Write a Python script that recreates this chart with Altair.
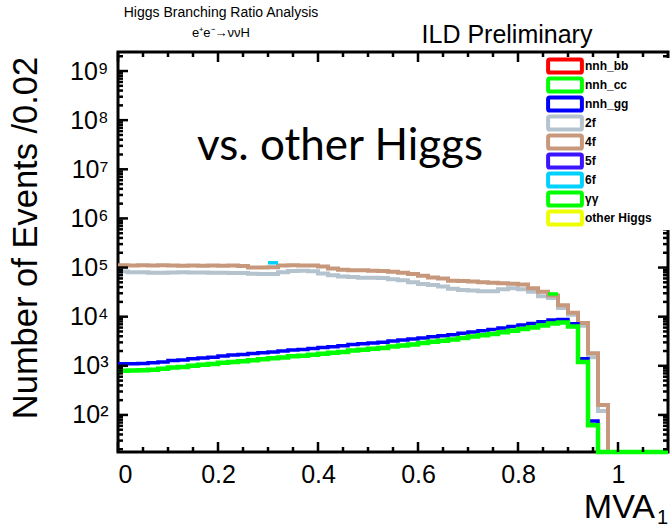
import altair as alt
import pandas as pd

# ---------------- data ----------------
series_names = ["nnh_bb", "nnh_cc", "nnh_gg", "2f", "4f", "5f", "6f", "γγ", "other Higgs"]
series_colors = ["#ff0000", "#00ff00", "#0000ff", "#b4c3cd", "#c8987c",
                 "#3c14ff", "#00d2ff", "#00ff00", "#eeff00"]

bin_edges = [0.00, 0.02, 0.04, 0.06, 0.08, 0.10, 0.12, 0.14, 0.16, 0.18,
             0.20, 0.22, 0.24, 0.26, 0.28, 0.30, 0.32, 0.34, 0.36, 0.38,
             0.40, 0.42, 0.44, 0.46, 0.48, 0.50, 0.52, 0.54, 0.56, 0.58,
             0.60, 0.62, 0.64, 0.66, 0.68, 0.70, 0.72, 0.74, 0.76, 0.78,
             0.80, 0.82, 0.84, 0.86, 0.88, 0.90, 0.92, 0.94, 0.96, 0.98,
             1.00, 1.02, 1.04, 1.06, 1.08, 1.10]

v_4f = [1.12e5, 1.10e5, 1.12e5, 1.10e5, 1.11e5, 1.10e5, 1.09e5, 1.10e5, 1.09e5, 1.10e5,
        1.09e5, 1.10e5, 1.08e5, 1.00e5, 1.00e5, 1.01e5, 1.10e5, 1.11e5, 1.10e5, 1.10e5,
        1.05e5, 9.6e4, 9.0e4, 8.8e4, 8.8e4, 8.6e4, 8.5e4, 8.2e4, 7.8e4, 7.4e4,
        6.8e4, 6.3e4, 6.0e4, 5.4e4, 5.3e4, 5.2e4, 5.0e4, 4.9e4, 4.8e4, 4.7e4,
        4.5e4, 3.8e4, 3.2e4, 2.7e4, 1.7e4, 1.2e4, 7.4e3, 1.8e3, 160, 0,
        0, 0, 0, 0, 0]

v_2f = [8.3e4, 8.0e4, 8.0e4, 7.8e4, 7.8e4, 7.9e4, 8.0e4, 7.9e4, 7.9e4, 7.8e4,
        7.8e4, 7.7e4, 7.7e4, 7.5e4, 7.4e4, 7.4e4, 8.0e4, 8.5e4, 8.6e4, 8.4e4,
        7.6e4, 7.0e4, 6.6e4, 6.4e4, 6.2e4, 6.2e4, 6.1e4, 5.8e4, 5.5e4, 5.0e4,
        4.6e4, 4.4e4, 4.1e4, 3.7e4, 3.5e4, 3.4e4, 3.3e4, 3.3e4, 3.6e4, 3.8e4,
        3.6e4, 3.2e4, 2.6e4, 2.4e4, 1.5e4, 1.1e4, 6.5e3, 1.5e3, 120, 0,
        0, 0, 0, 0, 0]

v_nnh_gg = [1.10e3, 1.10e3, 1.12e3, 1.15e3, 1.20e3, 1.28e3, 1.32e3, 1.40e3, 1.45e3, 1.50e3,
            1.58e3, 1.65e3, 1.70e3, 1.78e3, 1.85e3, 1.92e3, 2.00e3, 2.10e3, 2.15e3, 2.25e3,
            2.35e3, 2.45e3, 2.55e3, 2.70e3, 2.80e3, 2.90e3, 3.00e3, 3.20e3, 3.35e3, 3.50e3,
            3.70e3, 3.90e3, 4.10e3, 4.30e3, 4.60e3, 4.90e3, 5.20e3, 5.50e3, 5.90e3, 6.30e3,
            6.80e3, 7.30e3, 7.90e3, 8.60e3, 8.80e3, 7.20e3, 1.40e3, 75, 0, 0,
            0, 0, 0, 0, 0]

v_nnh_cc = [790, 800, 810, 830, 870, 920, 950, 1000, 1050, 1090,
            1150, 1200, 1240, 1300, 1360, 1420, 1480, 1560, 1600, 1680,
            1760, 1840, 1920, 2040, 2130, 2220, 2300, 2470, 2600, 2730,
            2900, 3070, 3250, 3420, 3680, 3930, 4200, 4450, 4800, 5150,
            5600, 6050, 6600, 7300, 7600, 6300, 1200, 62, 0, 0,
            0, 0, 0, 0, 0]

# single visible bins of otherwise hidden backgrounds
seg_series = ["6f", "γγ"]
seg_lo = [0.30, 0.86]
seg_hi = [0.32, 0.88]
seg_val = [1.25e5, 2.9e4]

x_major = [0.0, 0.2, 0.4, 0.6, 0.8, 1.0]
x_minor = [0.05, 0.10, 0.15, 0.25, 0.30, 0.35, 0.45, 0.50, 0.55, 0.65,
           0.70, 0.75, 0.85, 0.90, 0.95, 1.05]
y_major = [1e2, 1e3, 1e4, 1e5, 1e6, 1e7, 1e8, 1e9]
y_minor = [k * 10 ** n for n in range(1, 10) for k in range(2, 10)
           if 17.6 <= k * 10 ** n <= 2.44e9]

YMIN, YMAX = 17.6, 2.44e9
W, H = 550, 400
FONT = "Liberation Sans"

# ---------------- helpers ----------------
rows = []
for name, vals in [("2f", v_2f), ("4f", v_4f), ("nnh_gg", v_nnh_gg), ("nnh_cc", v_nnh_cc)]:
    for i, v in enumerate(vals):
        rows.append({"series": name, "x": bin_edges[i], "v": v})
    rows.append({"series": name, "x": bin_edges[-1], "v": vals[-1]})
df = pd.DataFrame(rows)
seg_df = pd.DataFrame({"series": seg_series, "x0": seg_lo, "x1": seg_hi, "v": seg_val})

xscale = alt.Scale(domain=[0, 1.1], nice=False, zero=False)
yscale = alt.Scale(type="log", domain=[YMIN, YMAX], nice=False)

x_axis = alt.Axis(values=x_major, format="~g", ticks=False, domain=False, grid=False,
                  labelFont=FONT, labelFontSize=25, labelColor="black",
                  labelPadding=10, title=None)
y_axis = alt.Axis(values=y_major, ticks=False, domain=False, grid=False,
                  labelExpr="'10' + ['⁰','¹','²','³','⁴','⁵','⁶','⁷','⁸','⁹'][round(log(datum.value)/LN10)]",
                  labelFont=FONT, labelFontSize=25, labelColor="black",
                  labelPadding=10, title=None)


def X(f):
    return alt.X(f, type="quantitative", scale=xscale, axis=x_axis)


def Y(f):
    return alt.Y(f, type="quantitative", scale=yscale, axis=y_axis)


COLOR = alt.Color("series:N", scale=alt.Scale(domain=series_names, range=series_colors),
                  legend=None)

widths = {"2f": 4, "4f": 4, "nnh_gg": 3.5, "nnh_cc": 4.5}
layers = []
for name in ["2f", "4f", "nnh_gg", "nnh_cc"]:
    layers.append(
        alt.Chart(df).transform_filter(alt.datum.series == name)
        .transform_calculate(yv=f"max(datum.v, {YMIN})")
        .mark_line(interpolate="step-after", strokeWidth=widths[name])
        .encode(x=X("x"), y=Y("yv"), color=COLOR)
    )

layers.append(
    alt.Chart(seg_df).mark_rule(strokeWidth=3.5)
    .encode(x=X("x0"), x2="x1", y=Y("v"), color=COLOR)
)


# inward frame ticks
def xticks(vals, length):
    d = pd.DataFrame({"t": vals})
    b = alt.Chart(d).mark_rule(color="black", strokeWidth=2.5).encode(
        x=X("t"), y=alt.value(H), y2=alt.value(H - length))
    t = alt.Chart(d).mark_rule(color="black", strokeWidth=2.5).encode(
        x=X("t"), y=alt.value(0), y2=alt.value(length))
    return [b, t]


def yticks(vals, length):
    d = pd.DataFrame({"t": vals})
    l = alt.Chart(d).mark_rule(color="black", strokeWidth=2.5).encode(
        y=Y("t"), x=alt.value(0), x2=alt.value(length))
    r = alt.Chart(d).mark_rule(color="black", strokeWidth=2.5).encode(
        y=Y("t"), x=alt.value(W), x2=alt.value(W - length))
    return [l, r]


layers += xticks(x_major, 10) + xticks(x_minor, 5) + yticks(y_major, 10) + yticks(y_minor, 5)


def label(text, x, y, size, font=FONT, align="center", angle=0, weight="normal", baseline="middle"):
    kw = dict(fontSize=size, font=font, align=align, baseline=baseline,
              color="black", fontWeight=weight)
    if angle:
        kw["angle"] = angle
    return alt.Chart(pd.DataFrame({"t": [text]})).mark_text(**kw).encode(
        text="t:N", x=alt.value(x), y=alt.value(y))


layers += [
    label("Higgs Branching Ratio Analysis", 103, -39, 14),
    label("e⁺e⁻→ννH", 103, -19, 13),
    label("ILD Preliminary", 389, -17, 25),
    label("vs. other Higgs", 222, 95, 44, font="Lato"),
    label("Number of Events /0.02", -91, 186, 34.5, angle=270),
    label("MVA", 537, 466, 34, align="right", baseline="alphabetic"),
    label("1", 539, 472, 20, align="left", baseline="alphabetic"),
]

main = alt.layer(*layers)

# ---------------- legend (drawn from the series list) ----------------
box_path = ("M-2.35,-1 H2.35 Q2.6,-1 2.6,-0.75 V0.75 Q2.6,1 2.35,1 "
            "H-2.35 Q-2.6,1 -2.6,0.75 V-0.75 Q-2.6,-1 -2.35,-1 Z")
leg_df = pd.DataFrame({"series": series_names})
leg_y = alt.Y("series:N", scale=alt.Scale(type="point", domain=series_names,
                                          range=[14, 166], padding=0), axis=None)
leg_stroke = alt.Stroke("series:N", scale=alt.Scale(domain=series_names, range=series_colors),
                        legend=None)

leg_bg = alt.Chart(pd.DataFrame({"a": [0]})).mark_rect(color="white").encode(
    x=alt.value(426), x2=alt.value(556), y=alt.value(6), y2=alt.value(178))
leg_sym = alt.Chart(leg_df).mark_point(
    shape=box_path, size=169, filled=False, fill="white", fillOpacity=1,
    strokeWidth=4, opacity=1).encode(x=alt.value(447), y=leg_y, stroke=leg_stroke)
leg_txt = alt.Chart(leg_df).mark_text(
    align="left", baseline="middle", font=FONT, fontSize=12, fontWeight="bold",
    color="black").encode(x=alt.value(467), y=leg_y, text="series:N")

legend = alt.layer(leg_bg, leg_sym, leg_txt)

chart = alt.layer(main, legend).resolve_scale(y="independent").properties(
    width=W, height=H,
    autosize=alt.AutoSizeParams(type="none"),
    padding={"left": 118, "top": 52, "right": 3, "bottom": 75},
    background="white",
).configure_view(stroke="black", strokeWidth=3)

chart.save("out.html", embed_options={"renderer": "svg", "actions": False})
